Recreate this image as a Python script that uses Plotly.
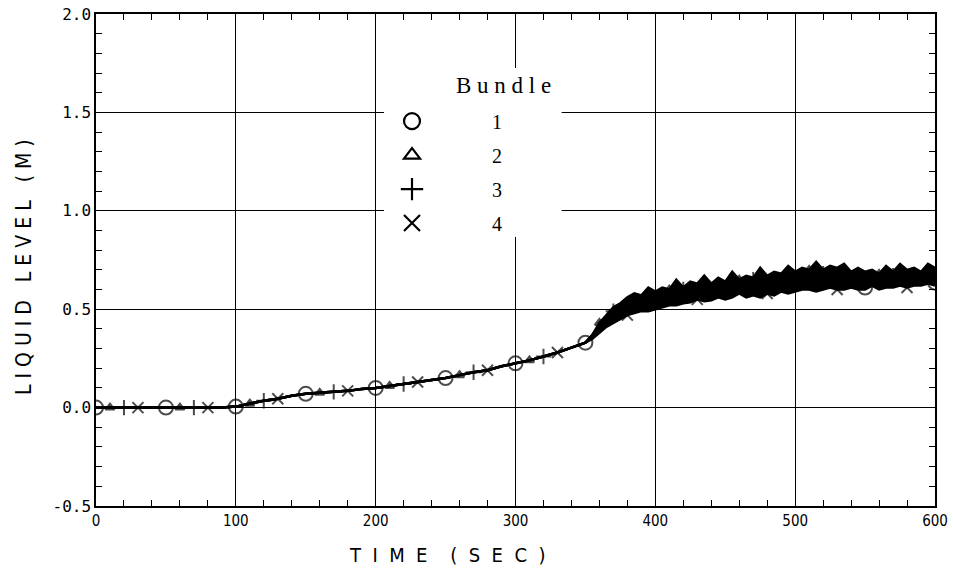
import plotly.graph_objects as go

# ---- data ----
time_early = list(range(0, 351, 10))
level_early = [0.00, 0.00, 0.00, 0.00, 0.00, 0.00, 0.00, 0.00, 0.00, 0.00,
               0.005, 0.02, 0.035, 0.045, 0.06, 0.07, 0.075, 0.08, 0.085, 0.095,
               0.10, 0.11, 0.12, 0.13, 0.14, 0.15, 0.165, 0.18, 0.19, 0.21,
               0.225, 0.24, 0.26, 0.28, 0.305, 0.33]
time_late = list(range(355, 601, 5))
bundle1_late = [0.36, 0.40, 0.43, 0.46, 0.49, 0.51, 0.52, 0.54, 0.53, 0.55,
                0.54, 0.56, 0.55, 0.57, 0.56, 0.58, 0.57, 0.59, 0.58, 0.60,
                0.59, 0.61, 0.60, 0.62, 0.60, 0.62, 0.61, 0.63, 0.62, 0.64,
                0.62, 0.64, 0.63, 0.65, 0.63, 0.65, 0.63, 0.64, 0.62, 0.61,
                0.63, 0.62, 0.64, 0.63, 0.65, 0.63, 0.65, 0.64, 0.65, 0.635]
bundle2_late = [0.37, 0.43, 0.47, 0.51, 0.53, 0.56, 0.58, 0.57, 0.61, 0.59,
                0.61, 0.60, 0.65, 0.61, 0.64, 0.63, 0.67, 0.63, 0.66, 0.64,
                0.69, 0.65, 0.67, 0.66, 0.71, 0.67, 0.69, 0.68, 0.72, 0.69,
                0.71, 0.70, 0.74, 0.70, 0.72, 0.71, 0.73, 0.69, 0.71, 0.69,
                0.70, 0.68, 0.72, 0.69, 0.73, 0.70, 0.71, 0.69, 0.73, 0.71]
bundle3_late = [0.37, 0.42, 0.45, 0.49, 0.52, 0.54, 0.55, 0.56, 0.56, 0.58,
                0.58, 0.59, 0.60, 0.60, 0.62, 0.61, 0.63, 0.62, 0.64, 0.63,
                0.65, 0.64, 0.66, 0.65, 0.67, 0.66, 0.68, 0.66, 0.69, 0.67,
                0.69, 0.68, 0.70, 0.68, 0.70, 0.69, 0.70, 0.68, 0.69, 0.67,
                0.68, 0.66, 0.68, 0.67, 0.69, 0.67, 0.69, 0.67, 0.70, 0.68]
bundle4_late = [0.35, 0.38, 0.41, 0.43, 0.45, 0.47, 0.48, 0.49, 0.49, 0.50,
                0.51, 0.52, 0.52, 0.53, 0.535, 0.55, 0.54, 0.545, 0.56, 0.55,
                0.56, 0.58, 0.56, 0.57, 0.56, 0.58, 0.57, 0.59, 0.58, 0.59,
                0.60, 0.60, 0.59, 0.60, 0.61, 0.60, 0.60, 0.61, 0.60, 0.60,
                0.62, 0.60, 0.61, 0.61, 0.62, 0.61, 0.62, 0.62, 0.63, 0.62]

bundle_names = ["1", "2", "3", "4"]
bundle_late = [bundle1_late, bundle2_late, bundle3_late, bundle4_late]
marker_offsets = [0, 10, 20, 30]

x_ticks = [0, 100, 200, 300, 400, 500, 600]
y_ticks = [-0.5, 0.0, 0.5, 1.0, 1.5, 2.0]
y_tick_labels = ["-0.5", "0.0", "0.5", "1.0", "1.5", "2.0"]

# ---- styles ----
data_symbols = ["circle-open", "triangle-up", "cross-thin-open", "x-thin-open"]
data_sizes = [14, 8, 11, 11]
legend_symbols = ["circle-open", "triangle-up-open", "cross-thin-open", "x-thin-open"]
legend_sizes = [16, 14, 16, 16]

fig = go.Figure()
t_all = time_early + time_late
# draw order: lowest (4), highest (2, filled down to 4), then 1 and 3
for i in [3, 1, 0, 2]:
    y = level_early + bundle_late[i]
    sizes = [data_sizes[i] if (t % 50 == marker_offsets[i]) else 0 for t in t_all]
    fig.add_trace(go.Scatter(
        x=t_all, y=y, mode="lines+markers", showlegend=False,
        fill="tonexty" if i == 1 else None, fillcolor="black",
        line=dict(color="black", width=2.5),
        marker=dict(symbol=data_symbols[i], size=sizes, color="black",
                    line=dict(color="black", width=2)),
    ))

pad = " " * 12
for i in range(4):
    fig.add_trace(go.Scatter(
        x=[None], y=[None], mode="markers", name=pad + bundle_names[i],
        legendgroup=bundle_names[i],
        marker=dict(symbol=legend_symbols[i], size=legend_sizes[i], color="black",
                    line=dict(color="black", width=2.2)),
    ))

# white box behind the legend (covers grid lines, stays under traces)
fig.add_shape(type="rect", xref="x", yref="y", x0=206, x1=333, y0=0.867, y1=1.726,
              fillcolor="white", line=dict(width=0), layer="between")

fig.add_annotation(text="B u n d l e", xref="paper", yref="paper", x=0.486, y=0.854,
                   xanchor="center", yanchor="middle", showarrow=False,
                   font=dict(family="Liberation Serif", size=23, color="black"))
fig.add_annotation(text="T  I  M  E    (  S  E  C  )",
                   xref="paper", yref="paper", x=0.418, y=-0.1,
                   xanchor="center", yanchor="middle", showarrow=False,
                   font=dict(family="DejaVu Sans Condensed", size=20, color="black"))
fig.add_annotation(text="L I Q U I D   L E V E L   ( M )",
                   xref="paper", yref="paper", x=-0.085, y=0.485, textangle=-90,
                   xanchor="center", yanchor="middle", showarrow=False,
                   font=dict(family="DejaVu Sans Condensed", size=21, color="black"))

fig.update_layout(
    width=953, height=575,
    margin=dict(l=96, r=18, t=14, b=69),
    paper_bgcolor="white", plot_bgcolor="white",
    font=dict(family="Liberation Mono", color="black"),
    xaxis=dict(range=[0, 600], tickvals=x_ticks, ticktext=[str(v) for v in x_ticks],
               ticks="inside", ticklen=6, tickcolor="black", automargin=False,
               showgrid=True, gridcolor="black", gridwidth=1,
               showline=True, linecolor="black", linewidth=1.5, mirror="allticks",
               zeroline=False, tickfont=dict(family="DejaVu Sans Condensed", size=15),
               minor=dict(dtick=20, ticks="inside", ticklen=6, tickcolor="black", showgrid=False)),
    yaxis=dict(range=[-0.5, 2.0], tickvals=y_ticks, ticktext=y_tick_labels,
               ticks="inside", ticklen=6, tickcolor="black", automargin=False,
               showgrid=True, gridcolor="black", gridwidth=1,
               showline=True, linecolor="black", linewidth=1.5, mirror="allticks",
               zeroline=False, tickfont=dict(family="DejaVu Sans Mono", size=16),
               minor=dict(dtick=0.1, ticks="inside", ticklen=6, tickcolor="black", showgrid=False)),
    legend=dict(x=0.3528, y=0.822, xanchor="left", yanchor="top",
                bgcolor="rgba(0,0,0,0)", borderwidth=0,
                font=dict(family="Liberation Serif", size=20),
                traceorder="grouped", tracegroupgap=5, itemsizing="trace"),
)

fig.write_html("out.html")
